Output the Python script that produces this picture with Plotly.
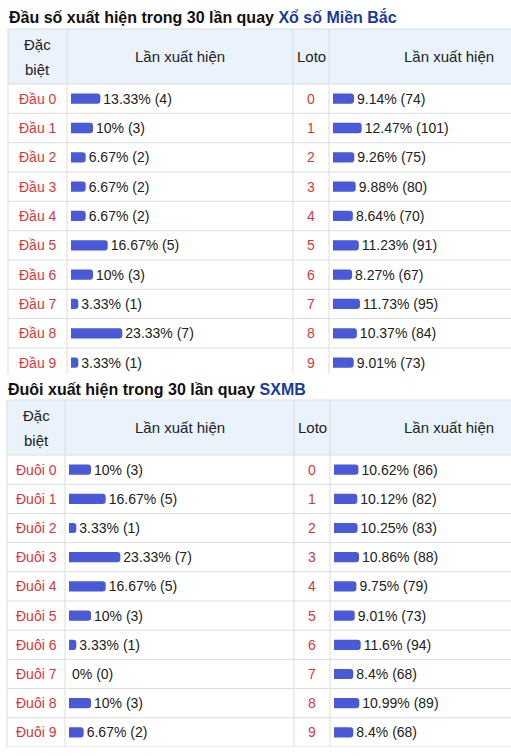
import plotly.graph_objects as go

W, H = 511, 756

# ---------------- data ----------------
dau_labels = ["Đầu 0", "Đầu 1", "Đầu 2", "Đầu 3", "Đầu 4", "Đầu 5", "Đầu 6", "Đầu 7", "Đầu 8", "Đầu 9"]
dau_pct = [13.33, 10, 6.67, 6.67, 6.67, 16.67, 10, 3.33, 23.33, 3.33]
dau_cnt = [4, 3, 2, 2, 2, 5, 3, 1, 7, 1]

loto_labels = ["0", "1", "2", "3", "4", "5", "6", "7", "8", "9"]
loto1_pct = [9.14, 12.47, 9.26, 9.88, 8.64, 11.23, 8.27, 11.73, 10.37, 9.01]
loto1_cnt = [74, 101, 75, 80, 70, 91, 67, 95, 84, 73]

duoi_labels = ["Đuôi 0", "Đuôi 1", "Đuôi 2", "Đuôi 3", "Đuôi 4", "Đuôi 5", "Đuôi 6", "Đuôi 7", "Đuôi 8", "Đuôi 9"]
duoi_pct = [10, 16.67, 3.33, 23.33, 16.67, 10, 3.33, 0, 10, 6.67]
duoi_cnt = [3, 5, 1, 7, 5, 3, 1, 0, 3, 2]

loto2_pct = [10.62, 10.12, 10.25, 10.86, 9.75, 9.01, 11.6, 8.4, 10.99, 8.4]
loto2_cnt = [86, 82, 83, 88, 79, 73, 94, 68, 89, 68]

title1 = "Đầu số xuất hiện trong 30 lần quay "
title1_link = "Xổ số Miền Bắc"
title2 = "Đuôi xuất hiện trong 30 lần quay "
title2_link = "SXMB"
hdr_col1 = ["Đặc", "biệt"]
hdr_col2 = "Lần xuất hiện"
hdr_col3 = "Loto"

# ---------------- style ----------------
FONT = "Arial, Liberation Sans, sans-serif"
BAR = "#4a5ad6"
RED = "#d43a3a"
BLUE = "#1a3a9c"
TXT = "#222222"
GRID = "#dddddd"
HDRBG = "#eaf2fc"


def px_x(p):
    return p / W


def px_y(p):
    return 1 - p / H


def fmt(p, c):
    return f"{p:g}% ({c})"


fig = go.Figure()


def add_bars(pcts, cnts, xa, ya):
    fig.add_trace(go.Bar(
        x=pcts, y=list(range(len(pcts))), orientation="h",
        xaxis=xa, yaxis=ya,
        marker=dict(color=BAR, line=dict(width=0)),
        width=0.35,
        text=[fmt(p, c) for p, c in zip(pcts, cnts)],
        textposition="outside", constraintext="none", cliponaxis=False,
        textfont=dict(family=FONT, size=14, color=TXT),
        hoverinfo="skip", showlegend=False,
    ))


add_bars(dau_pct, dau_cnt, "x", "y")
add_bars(loto1_pct, loto1_cnt, "x2", "y")
add_bars(duoi_pct, duoi_cnt, "x3", "y2")
add_bars(loto2_pct, loto2_cnt, "x4", "y2")

# table geometry (pixels)
t1_top, t1_hdr, t1_bot, t1_end = 29, 84, 377.3, 374
t2_top, t2_hdr, t2_bot = 400, 455, 747

ax = dict(visible=False, fixedrange=True)
fig.update_layout(
    width=W, height=H, margin=dict(l=0, r=0, t=0, b=0),
    paper_bgcolor="white", plot_bgcolor="rgba(0,0,0,0)",
    barcornerradius=3,
    xaxis=dict(ax, domain=[px_x(71), px_x(290)], range=[0, 219 / 2.2], anchor="y"),
    xaxis2=dict(ax, domain=[px_x(333), 1], range=[0, 178 / 2.3], anchor="y"),
    xaxis3=dict(ax, domain=[px_x(69), px_x(290)], range=[0, 221 / 2.2], anchor="y2"),
    xaxis4=dict(ax, domain=[px_x(334), 1], range=[0, 177 / 2.3], anchor="y2"),
    yaxis=dict(ax, domain=[px_y(t1_bot), px_y(t1_hdr)], range=[9.5, -0.5], anchor="x"),
    yaxis2=dict(ax, domain=[px_y(t2_bot), px_y(t2_hdr)], range=[9.5, -0.5], anchor="x3"),
)

shapes = []
annos = []


def text(x, y, s, yref="paper", color=TXT, size=14, xanchor="center"):
    annos.append(dict(xref="paper", yref=yref, x=x, y=y, text=s, showarrow=False,
                      xanchor=xanchor, yanchor="middle",
                      font=dict(family=FONT, size=size, color=color)))


def line(x0, y0, x1, y1, xref="paper", yref="paper"):
    shapes.append(dict(type="line", xref=xref, yref=yref, x0=x0, y0=y0, x1=x1, y1=y1,
                       line=dict(color=GRID, width=1), layer="below"))


def table(top, hdr, bot_v, left, c1, c2, c3, yname, nrows, bottom_line, title, link, ty):
    shapes.append(dict(type="rect", xref="paper", yref="paper",
                       x0=px_x(left), x1=1, y0=px_y(hdr), y1=px_y(top),
                       fillcolor=HDRBG, line=dict(width=0), layer="below"))
    line(px_x(left), px_y(top), 1, px_y(top))
    line(px_x(left), px_y(hdr), 1, px_y(hdr))
    last = nrows if bottom_line else nrows - 1
    for k in range(1, last + 1):
        shapes.append(dict(type="line", xref="paper", yref=yname, x0=px_x(left), x1=1,
                           y0=k - 0.5, y1=k - 0.5, line=dict(color=GRID, width=1), layer="below"))
    for cx in (left, c1, c2, c3):
        line(px_x(cx), px_y(top), px_x(cx), px_y(bot_v))
    text(px_x(left - 1), px_y(ty),
         f"<b>{title}<span style='color:{BLUE}'>{link}</span></b>",
         color="#111111", size=16, xanchor="left")
    hc = (top + hdr) / 2
    text(px_x((left + c1) / 2), px_y(hc - 12), hdr_col1[0], size=15)
    text(px_x((left + c1) / 2), px_y(hc + 13), hdr_col1[1], size=15)
    text(px_x((c1 + c2) / 2), px_y(hc), hdr_col2, size=15)
    text(px_x((c2 + c3) / 2), px_y(hc), hdr_col3, size=15)
    text(px_x(449), px_y(hc), hdr_col2, size=15)


table(t1_top, t1_hdr, t1_end, 8, 67, 293, 329, "y", 10, False, title1, title1_link, 17)
table(t2_top, t2_hdr, t2_bot, 7, 65, 294, 330, "y2", 10, True, title2, title2_link, 389)

for i, lab in enumerate(dau_labels):
    text(px_x(38), i, lab, yref="y", color=RED)
for i, lab in enumerate(duoi_labels):
    text(px_x(36), i, lab, yref="y2", color=RED)
for i, lab in enumerate(loto_labels):
    text(px_x(311), i, lab, yref="y", color=RED)
    text(px_x(312), i, lab, yref="y2", color=RED)

fig.update_layout(shapes=shapes, annotations=annos)
fig.write_html("out.html", config={"displayModeBar": False})
